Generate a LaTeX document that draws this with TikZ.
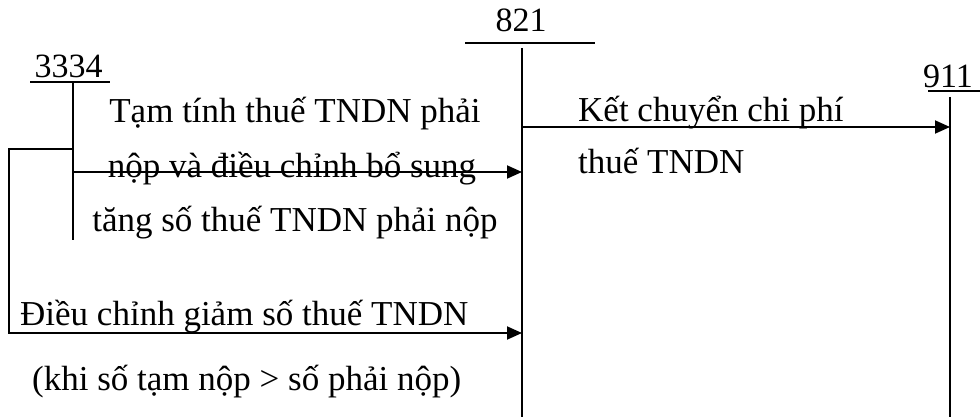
\documentclass[tikz,border=0pt]{standalone}
\usepackage{fontspec}
\setmainfont{Liberation Serif}
\usetikzlibrary{arrows.meta}
\begin{document}
\begin{tikzpicture}[x=1pt,y=-1pt,
  ln/.style={line width=1.9pt},
  arr/.style={line width=1.9pt,-{Triangle[length=15pt,width=13pt]}},
  lbl/.style={font=\fontsize{34}{38}\selectfont,inner sep=0pt,anchor=base},
  txt/.style={font=\fontsize{35}{40}\selectfont,inner sep=0pt,anchor=base},
  txtw/.style={txt,anchor=base west}]
\useasboundingbox (0,0) rectangle (980,417);
% account labels
\node[lbl] (n3334) at (68.5,78) {3334};
\node[lbl] (n821) at (521,32) {821};
\node[lbl] (n911) at (948,88) {911};
% T-account coordinates
\coordinate (b3334l) at (30,82); \coordinate (b3334r) at (110,82);
\coordinate (v3334t) at (73,82); \coordinate (v3334b) at (73,240);
\coordinate (b821l) at (465,43); \coordinate (b821r) at (595,43);
\coordinate (v821t) at (522,48); \coordinate (v821b) at (522,417);
\coordinate (b911l) at (928,91); \coordinate (b911r) at (980,91);
\coordinate (v911t) at (950,97); \coordinate (v911b) at (950,417);
\draw[ln] (b3334l) -- (b3334r);
\draw[ln] (v3334t) -- (v3334b);
\draw[ln] (b821l) -- (b821r);
\draw[ln] (v821t) -- (v821b);
\draw[ln] (b911l) -- (b911r);
\draw[ln] (v911t) -- (v911b);
% connectors
\coordinate (a1s) at (73,172); \coordinate (a1e) at (522,172);
\draw[arr] (a1s) -- (a1e);
\coordinate (a2s) at (522,127); \coordinate (a2e) at (950,127);
\draw[arr] (a2s) -- (a2e);
\coordinate (a3s) at (73,149); \coordinate (a3c1) at (9,149);
\coordinate (a3c2) at (9,333); \coordinate (a3e) at (522,333);
\draw[arr] (a3s) -- (a3c1) -- (a3c2) -- (a3e);
% texts
\node[txt] (t1) at (295,123) {Tạm tính thuế TNDN phải};
\node[txt] (t2) at (292,178) {nộp và điều chỉnh bổ sung};
\node[txt] (t3) at (295,231) {tăng số thuế TNDN phải nộp};
\node[txtw] (t4) at (578,122) {Kết chuyển chi phí};
\node[txtw] (t5) at (578,174) {thuế TNDN};
\node[txtw] (t6) at (20,325) {Điều chỉnh giảm số thuế TNDN};
\node[txtw] (t7) at (32,390) {(khi số tạm nộp > số phải nộp)};
\end{tikzpicture}
\end{document}
